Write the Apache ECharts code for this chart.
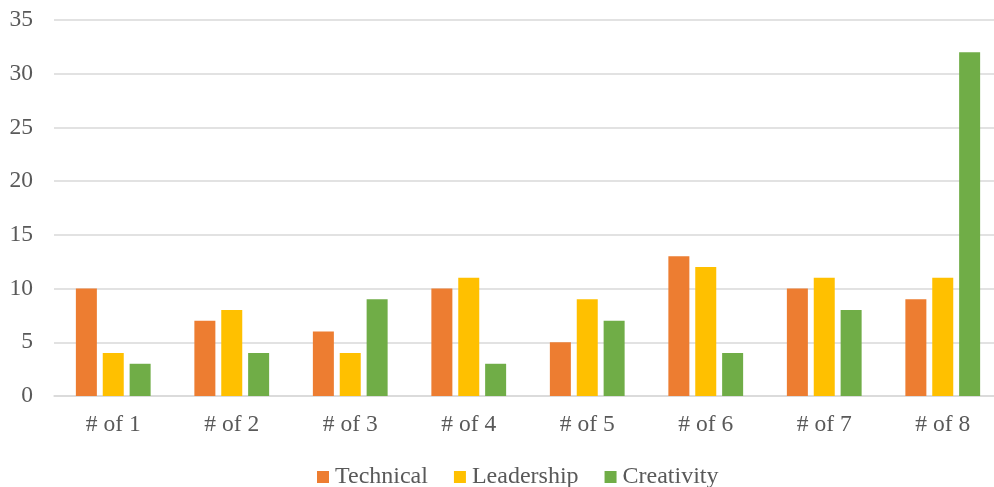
<!DOCTYPE html>
<html><head><meta charset="utf-8">
<script src="https://cdn.jsdelivr.net/npm/echarts@6/dist/echarts.min.js"></script>
<style>html,body{margin:0;padding:0;background:#fff}#c{width:994px;height:487px}</style>
</head><body><div id="c"></div>
<script>
const categories = ['# of 1','# of 2','# of 3','# of 4','# of 5','# of 6','# of 7','# of 8'];
const technical = [10,7,6,10,5,13,10,9];
const leadership = [4,8,4,11,9,12,11,11];
const creativity = [3,4,9,3,7,4,8,32];
const seriesNames = ['Technical','Leadership','Creativity'];
const colors = ['#ED7D31','#FFC000','#70AD47'];
const font = '"Liberation Serif", "Times New Roman", serif';
const chart = echarts.init(document.getElementById('c'));
const mk = (name, data) => ({name, type:'bar', data, barWidth:21, barGap:'28%'});
chart.setOption({
  animation:false,
  color: colors,
  textStyle:{fontFamily:font},
  grid:{left:54, top:20, width:948, height:376, containLabel:false, outerBoundsMode:'none'},
  legend:{data:seriesNames, top:465, left:317, padding:0, itemWidth:12, itemHeight:12, itemGap:26,
    icon:'rect', textStyle:{fontFamily:font, fontSize:24, color:'#595959', padding:[0,0,0,1]}},
  xAxis:{type:'category', data:categories,
    axisLine:{show:true, lineStyle:{color:'#d9d9d9', width:1.5}},
    axisTick:{show:false},
    axisLabel:{fontFamily:font, fontSize:23.5, color:'#595959', margin:17}},
  yAxis:{type:'value', min:0, max:35, interval:5,
    axisLine:{show:false}, axisTick:{show:false},
    splitLine:{lineStyle:{color:'#d9d9d9', width:1.5}},
    axisLabel:{fontFamily:font, fontSize:23.5, color:'#595959', margin:21}},
  series:[mk(seriesNames[0], technical), mk(seriesNames[1], leadership), mk(seriesNames[2], creativity)]
});
</script></body></html>
